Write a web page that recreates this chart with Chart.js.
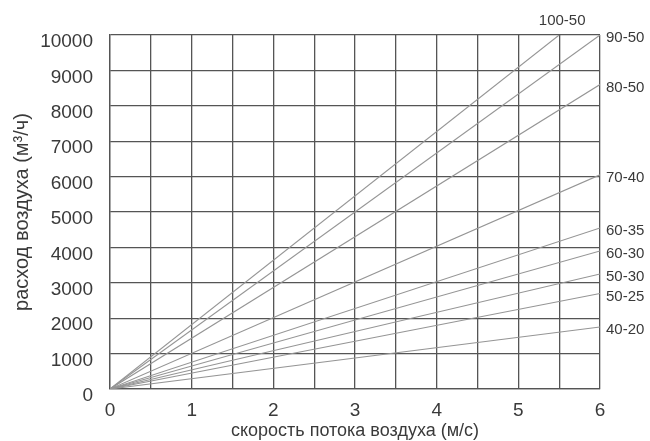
<!DOCTYPE html>
<html lang="ru">
<head>
    <meta charset="UTF-8">
    <title>Расход воздуха</title>
    <script src="https://cdn.jsdelivr.net/npm/chart.js"></script>
    <style>
        html, body { margin: 0; padding: 0; background: #fff; }
        #wrap { width: 650px; height: 441px; }
    </style>
</head>
<body>
    <div id="wrap"><canvas id="grafik" width="650" height="441"></canvas></div>

    <script>
        // сечения воздуховода (см)
        const sizes = ['100-50', '90-50', '80-50', '70-40', '60-35', '60-30', '50-30', '50-25', '40-20'];
        // скорость в конце линии (м/с)
        const endSpeed = [5.5, 6, 6, 6, 6, 6, 6, 6, 6];
        // расход в конце линии (м³/ч)
        const endFlow = [10000, 10000, 8600, 6050, 4550, 3900, 3250, 2700, 1750];
        const xTicks = [0, 1, 2, 3, 4, 5, 6];
        const yTicks = [0, 1000, 2000, 3000, 4000, 5000, 6000, 7000, 8000, 9000, 10000];

        const FONT = '"Liberation Sans", Arial, sans-serif';
        const textColor = '#3a3a3a';

        const datasets = sizes.map((s, i) => ({
            label: s,
            data: [{ x: 0, y: 0 }, { x: endSpeed[i], y: endFlow[i] }],
            borderColor: '#959595',
            borderWidth: 1.1,
            pointRadius: 0,
            fill: false
        }));

        // подписи сечений у конца каждой линии
        const endLabels = {
            id: 'endLabels',
            afterDatasetsDraw(chart) {
                const ctx = chart.ctx;
                ctx.save();
                ctx.font = '15px ' + FONT;
                ctx.fillStyle = textColor;
                chart.data.datasets.forEach((ds, i) => {
                    const pt = chart.getDatasetMeta(i).data[1];
                    if (pt.x < chart.chartArea.right - 2) {
                        ctx.textAlign = 'center';
                        ctx.textBaseline = 'bottom';
                        ctx.fillText(ds.label, pt.x + 3, pt.y - 7);
                    } else {
                        ctx.textAlign = 'left';
                        ctx.textBaseline = 'middle';
                        ctx.fillText(ds.label, pt.x + 6, pt.y + 3);
                    }
                });
                ctx.restore();
            }
        };

        new Chart(document.getElementById('grafik'), {
            type: 'line',
            data: { datasets: datasets },
            plugins: [endLabels],
            options: {
                responsive: false,
                animation: false,
                layout: { padding: { top: 35, right: 50, left: 0, bottom: 0 } },
                plugins: { legend: { display: false }, tooltip: { enabled: false } },
                scales: {
                    x: {
                        type: 'linear',
                        min: 0,
                        max: 6,
                        afterFit(scale) { scale.height = 52; },
                        ticks: {
                            stepSize: 0.5,
                            color: textColor,
                            font: { family: FONT, size: 19 },
                            padding: 10,
                            callback: v => xTicks.includes(v) ? String(v) : ''
                        },
                        grid: { color: '#555', lineWidth: 1.3, drawTicks: false },
                        border: { color: '#555', width: 1.3 },
                        title: {
                            display: true,
                            text: 'скорость потока воздуха (м/с)',
                            color: textColor,
                            font: { family: FONT, size: 18 },
                            padding: { top: 0, bottom: -1 }
                        }
                    },
                    y: {
                        min: 0,
                        max: 10000,
                        afterFit(scale) { scale.width = 110; },
                        afterBuildTicks(scale) { scale.ticks = yTicks.map(v => ({ value: v })); },
                        ticks: {
                            color: textColor,
                            font: { family: FONT, size: 19 },
                            padding: 17,
                            labelOffset: 7,
                            callback: v => String(v)
                        },
                        grid: { color: '#555', lineWidth: 1.3, drawTicks: false },
                        border: { color: '#555', width: 1.3 },
                        title: {
                            display: true,
                            text: 'расход воздуха (м³/ч)',
                            color: textColor,
                            font: { family: FONT, size: 20 },
                            padding: { top: 10, bottom: 0 }
                        }
                    }
                }
            }
        });
    </script>
</body>
</html>
